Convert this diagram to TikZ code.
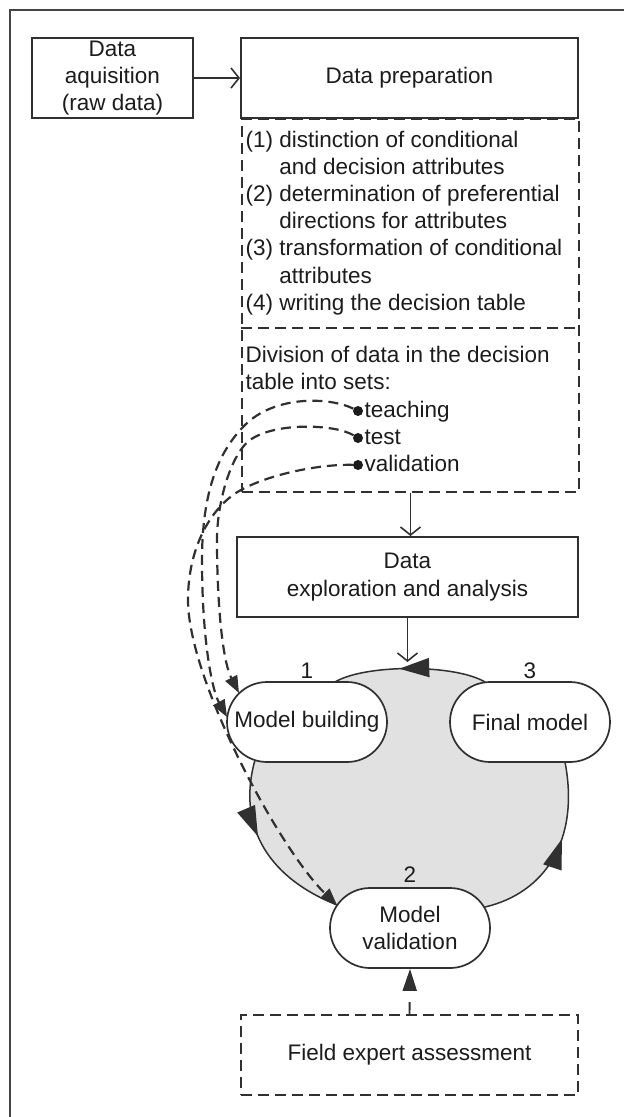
\documentclass[tikz,border=0pt]{standalone}
\usepackage{fontspec}
\setmainfont{Liberation Sans}
\usetikzlibrary{arrows.meta,shapes.misc,decorations.markings,calc}

\definecolor{ink}{HTML}{303030}
\definecolor{txt}{HTML}{1C1C1C}
\definecolor{cyclefill}{HTML}{E1E1E1}
\definecolor{framecol}{HTML}{444444}

\tikzset{
  txtfont/.style={font=\fontsize{22.5pt}{27.3pt}\selectfont, text=txt},
  box/.style={draw=ink, line width=1.9pt, fill=white, rectangle, txtfont,
    align=center, inner sep=0pt, minimum height=80pt},
  dbox/.style={box, dash pattern=on 11pt off 6pt},
  pill/.style={draw=ink, line width=1.7pt, fill=white, rounded rectangle,
    minimum width=160pt, minimum height=80pt, txtfont, align=center, inner sep=0pt},
  flow/.style={draw=ink, line width=1.7pt,
    -{Straight Barb[length=8pt,width=20pt,line width=1.6pt]}},
  feed/.style={draw=ink, line width=2.2pt, dash pattern=on 10pt off 6pt,
    -{Triangle[length=17pt,width=13pt]}},
  cyc/.style={draw=ink, line width=1.5pt},
  arrowmid/.style={postaction={decorate}, decoration={markings,
    mark=at position #1 with {\arrow{Triangle[length=30pt,width=19pt]}}}},
  plain/.style={txtfont, inner sep=0pt},
  setdot/.style={circle, fill=txt, inner sep=0pt, minimum size=10pt},
}

\begin{document}
\begin{tikzpicture}[x=1pt, y=-1pt]
\useasboundingbox (0,0) rectangle (624,1117);

% frame
\draw[framecol, line width=1.6pt] (10,1117) -- (10,10) -- (624,10);

% junction points of the cycle with the three stage boxes
\coordinate (mbT) at (335,682);
\coordinate (mbB) at (255,760);
\coordinate (fmT) at (485,682);
\coordinate (fmB) at (565,762);
\coordinate (mvL) at (337,905);
\coordinate (mvR) at (485,907);

% shaded cycle
\fill[cyclefill] (mbT) .. controls (365,664) and (455,664) .. (fmT) -- (fmB)
  .. controls (580,840) and (545,893) .. (mvR) -- (mvL)
  .. controls (262,875) and (238,820) .. (mbB) -- cycle;
\draw[cyc, arrowmid=0.57] (fmT) .. controls (455,664) and (365,664) .. (mbT);
\draw[cyc, arrowmid=0.42] (mbB) .. controls (238,820) and (262,875) .. (mvL);
\draw[cyc, arrowmid=0.58] (mvR) .. controls (545,893) and (580,840) .. (fmB);

% top row
\node[box, minimum width=161pt] (acq) at (112.5,78) {Data\\aquisition\\(raw data)};
\node[box, minimum width=337pt] (prep) at (409.5,78) {Data preparation};
\draw[flow] (acq.east) -- (prep.west);

% preparation details
\node[dbox, fill=none, minimum width=337pt, minimum height=373pt, anchor=north west]
  (pd) at (241,118) {};
\coordinate (divL) at (241,328);
\draw[draw=ink, line width=1.9pt, dash pattern=on 11pt off 6pt] (divL) -- (divL -| pd.east);

\node[plain, anchor=base west] (i1) at (245.5,147) {(1) distinction of conditional};
\node[plain, anchor=base west] (i1b) at (245.5,174.2) {\hphantom{(1)\ }and decision attributes};
\node[plain, anchor=base west] (i2) at (245.5,201.4) {(2) determination of preferential};
\node[plain, anchor=base west] (i2b) at (245.5,228.6) {\hphantom{(2)\ }directions for attributes};
\node[plain, anchor=base west] (i3) at (245.5,255.8) {(3) transformation of conditional};
\node[plain, anchor=base west] (i3b) at (245.5,283) {\hphantom{(3)\ }attributes};
\node[plain, anchor=base west] (i4) at (245.5,310.2) {(4) writing the decision table};

\node[plain, anchor=base west] (dv1) at (245.5,362) {Division of data in the decision};
\node[plain, anchor=base west] (dv2) at (245.5,389) {table into sets:};

\node[setdot] (dT) at (358,411) {};
\node[setdot] (dS) at (358,438) {};
\node[setdot] (dV) at (358,465) {};
\node[plain, anchor=base west] (sT) at (364.5,417) {teaching};
\node[plain, anchor=base west] (sS) at (364.5,444) {test};
\node[plain, anchor=base west] (sV) at (364.5,471) {validation};

% exploration
\node[box, minimum width=341pt] (expl) at (407.5,577) {Data\\exploration and analysis};
\draw[flow] (pd.south) -- (pd.south |- expl.north);
\coordinate (ctop) at (407.5,662);
\draw[flow] (expl.south) -- (ctop);

% stages of the cycle
\node[pill] (mb) at (307,722) {Model building};
\node[pill] (fm) at (530,722) {Final model};
\node[pill] (mv) at (410,928) {Model\\validation};
\node[plain, anchor=base] (n1) at (307,678) {1};
\node[plain, anchor=base] (n3) at (530,678) {3};
\node[plain, anchor=base] (n2) at (410,882) {2};

% expert assessment
\node[dbox, minimum width=337pt] (fe) at (409.5,1055) {Field expert assessment};
\draw[draw=ink, line width=1.9pt, dash pattern=on 12pt off 20pt,
  -{Triangle[length=22pt,width=14pt]}] (fe.north) -- (mv.south);

% data sets feeding the stages
\coordinate (tipT) at (227,717);
\coordinate (tipS) at (239,693);
\draw[feed] (dT) .. controls (330,397) and (275,395) .. (245,425)
  .. controls (225,445) and (202,480) .. (202,560)
  .. controls (202,640) and (212,690) .. (tipT);
\draw[feed] (dS) .. controls (335,424) and (275,422) .. (250,440)
  .. controls (232,453) and (217,500) .. (217,540)
  .. controls (217,600) and (222,660) .. (tipS);
\draw[feed] (dV) .. controls (320,464) and (270,474) .. (241,490)
  .. controls (213,505) and (188,545) .. (188,600)
  .. controls (188,680) and (280,850) .. (mvL);
\end{tikzpicture}
\end{document}
